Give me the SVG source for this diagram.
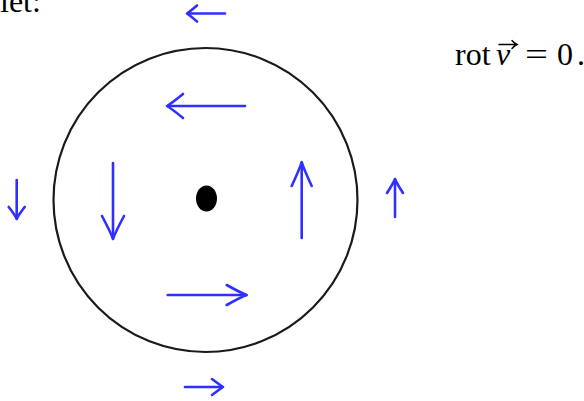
<svg xmlns="http://www.w3.org/2000/svg" width="584" height="401" viewBox="0 0 584 401">
<style>
.txt{font-family:"Liberation Serif","DejaVu Serif",serif;font-size:32px;fill:#000}
.arr{fill:none;stroke:#2f2fff;stroke-width:2.6;stroke-linecap:round;stroke-linejoin:round}
</style>
<rect width="584" height="401" fill="#fff"/>
<text class="txt" x="0" y="12">let:</text>
<g id="formula">
<text class="txt" x="455" y="65">rot</text>
<text class="txt" x="496" y="65" font-style="italic">v</text>
<path d="M499,44.5 H516 M512,40.5 Q514.5,43.5 517,44.5 Q514.5,45.5 512,48.5" fill="none" stroke="#000" stroke-width="1.4" stroke-linecap="round"/>
<text class="txt" x="525" y="65" textLength="23" lengthAdjust="spacingAndGlyphs">=</text>
<text class="txt" x="557" y="65">0</text>
<text class="txt" x="577" y="65">.</text>
</g>
<g id="disk">
<circle cx="205.5" cy="200" r="152" fill="none" stroke="#1a1a1a" stroke-width="2.2"/>
</g>
<g id="center">
<ellipse cx="206.5" cy="198.5" rx="10.5" ry="13" fill="#000"/>
</g>
<g id="arrows">
<g id="a-top-inner"><path class="arr" d="M245,106 H168"/><path class="arr" d="M183,94 Q172,103 167,106 Q172,109 183,118"/></g>
<g id="a-top-outer"><path class="arr" d="M225,13.5 H188"/><path class="arr" d="M197,5.5 Q190,11.5 187,13.5 Q190,15.5 197,21.5"/></g>
<g id="a-left-inner"><path class="arr" d="M113,163 V238"/><path class="arr" d="M102,216 Q111,233 113,239 Q115,233 124,216"/></g>
<g id="a-left-outer"><path class="arr" d="M16.7,180 V218"/><path class="arr" d="M8.7,207 Q15,215 16.7,219 Q18.4,215 24.7,207"/></g>
<g id="a-right-inner"><path class="arr" d="M301.7,238 V163"/><path class="arr" d="M291.7,186 Q300,168 301.7,162 Q303.4,168 311.7,186"/></g>
<g id="a-right-outer"><path class="arr" d="M395,217 V180"/><path class="arr" d="M387,193 Q393.5,183 395,179 Q396.5,183 403,193"/></g>
<g id="a-bottom-inner"><path class="arr" d="M167.7,295 H246"/><path class="arr" d="M226.7,285 Q241,293 246.7,295 Q241,297 226.7,305"/></g>
<g id="a-bottom-outer"><path class="arr" d="M185,387 H222"/><path class="arr" d="M212,379 Q220,385 223,387 Q220,389 212,395"/></g>
</g>
</svg>
